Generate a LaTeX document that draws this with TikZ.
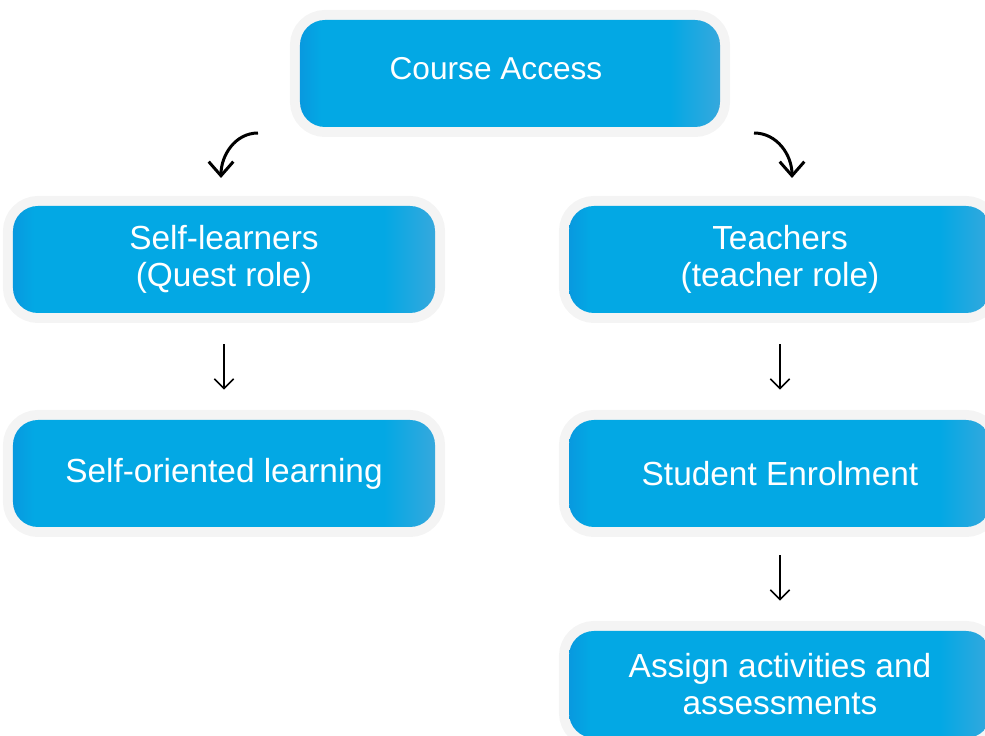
\documentclass[tikz,border=0pt]{standalone}
\usepackage{fontspec}
\setmainfont{Liberation Sans}
\usepackage{tikz}
\usetikzlibrary{arrows.meta}

\definecolor{framegray}{HTML}{F4F4F4}
\definecolor{boxleft}{HTML}{0899DF}
\definecolor{boxmid}{HTML}{03A8E4}
\definecolor{boxright}{HTML}{36A8DD}
\pgfdeclarehorizontalshading{boxshade}{100bp}{color(0bp)=(boxleft); color(25bp)=(boxleft); color(27.5bp)=(boxmid); color(69bp)=(boxmid); color(75bp)=(boxright); color(100bp)=(boxright)}

\tikzset{
	flowbox/.style={shading=boxshade, rounded corners=5mm,
		minimum width=84.4mm, minimum height=21.4mm, align=center,
		text=white, font=\fontsize{19}{21}\selectfont,
		preaction={draw=framegray, line width=4mm}},
	downarrow/.style={-{Straight Barb[length=5.5pt, width=11pt]}, line width=0.9pt},
	bentarrow/.style={-{Straight Barb[length=8pt, width=14pt]}, line width=1.7pt}
}

\begin{document}
\begin{tikzpicture}[x=0.2mm, y=-0.2mm]
	\useasboundingbox (0, 0) rectangle (985, 736);
	%
	\node[flowbox, minimum width=84mm, font=\fontsize{18}{21}\selectfont] (access) at (510, 73.5) {\raisebox{2mm}{Course Access}\hspace{5.6mm}};
	\node[flowbox] (selflearn) at (224, 259.5) {Self-learners\\(Quest role)};
	\node[flowbox] (teachers) at (780, 259.5) {Teachers\\(teacher role)};
	\node[flowbox] (selforient) at (224, 473.5) {Self-oriented learning};
	\node[flowbox] (enrol) at (780, 473.5) {Student Enrolment};
	\node[flowbox] (assign) at (780, 684.5) {Assign activities and\\assessments};
	%
	\coordinate (bl0) at (258, 133);
	\coordinate (bl1) at (221, 178);
	\coordinate (br0) at (754, 133);
	\coordinate (br1) at (792, 178);
	\draw[bentarrow] (bl0) to[out=180, in=90] (bl1);
	\draw[bentarrow] (br0) to[out=0, in=90] (br1);
	%
	\draw[downarrow] ([yshift=-6.2mm]selflearn.south) -- ([yshift=6mm]selforient.north);
	\draw[downarrow] ([yshift=-6.2mm]teachers.south) -- ([yshift=6mm]enrol.north);
	\draw[downarrow] ([yshift=-5.6mm]enrol.south) -- ([yshift=6mm]assign.north);
\end{tikzpicture}
\end{document}
